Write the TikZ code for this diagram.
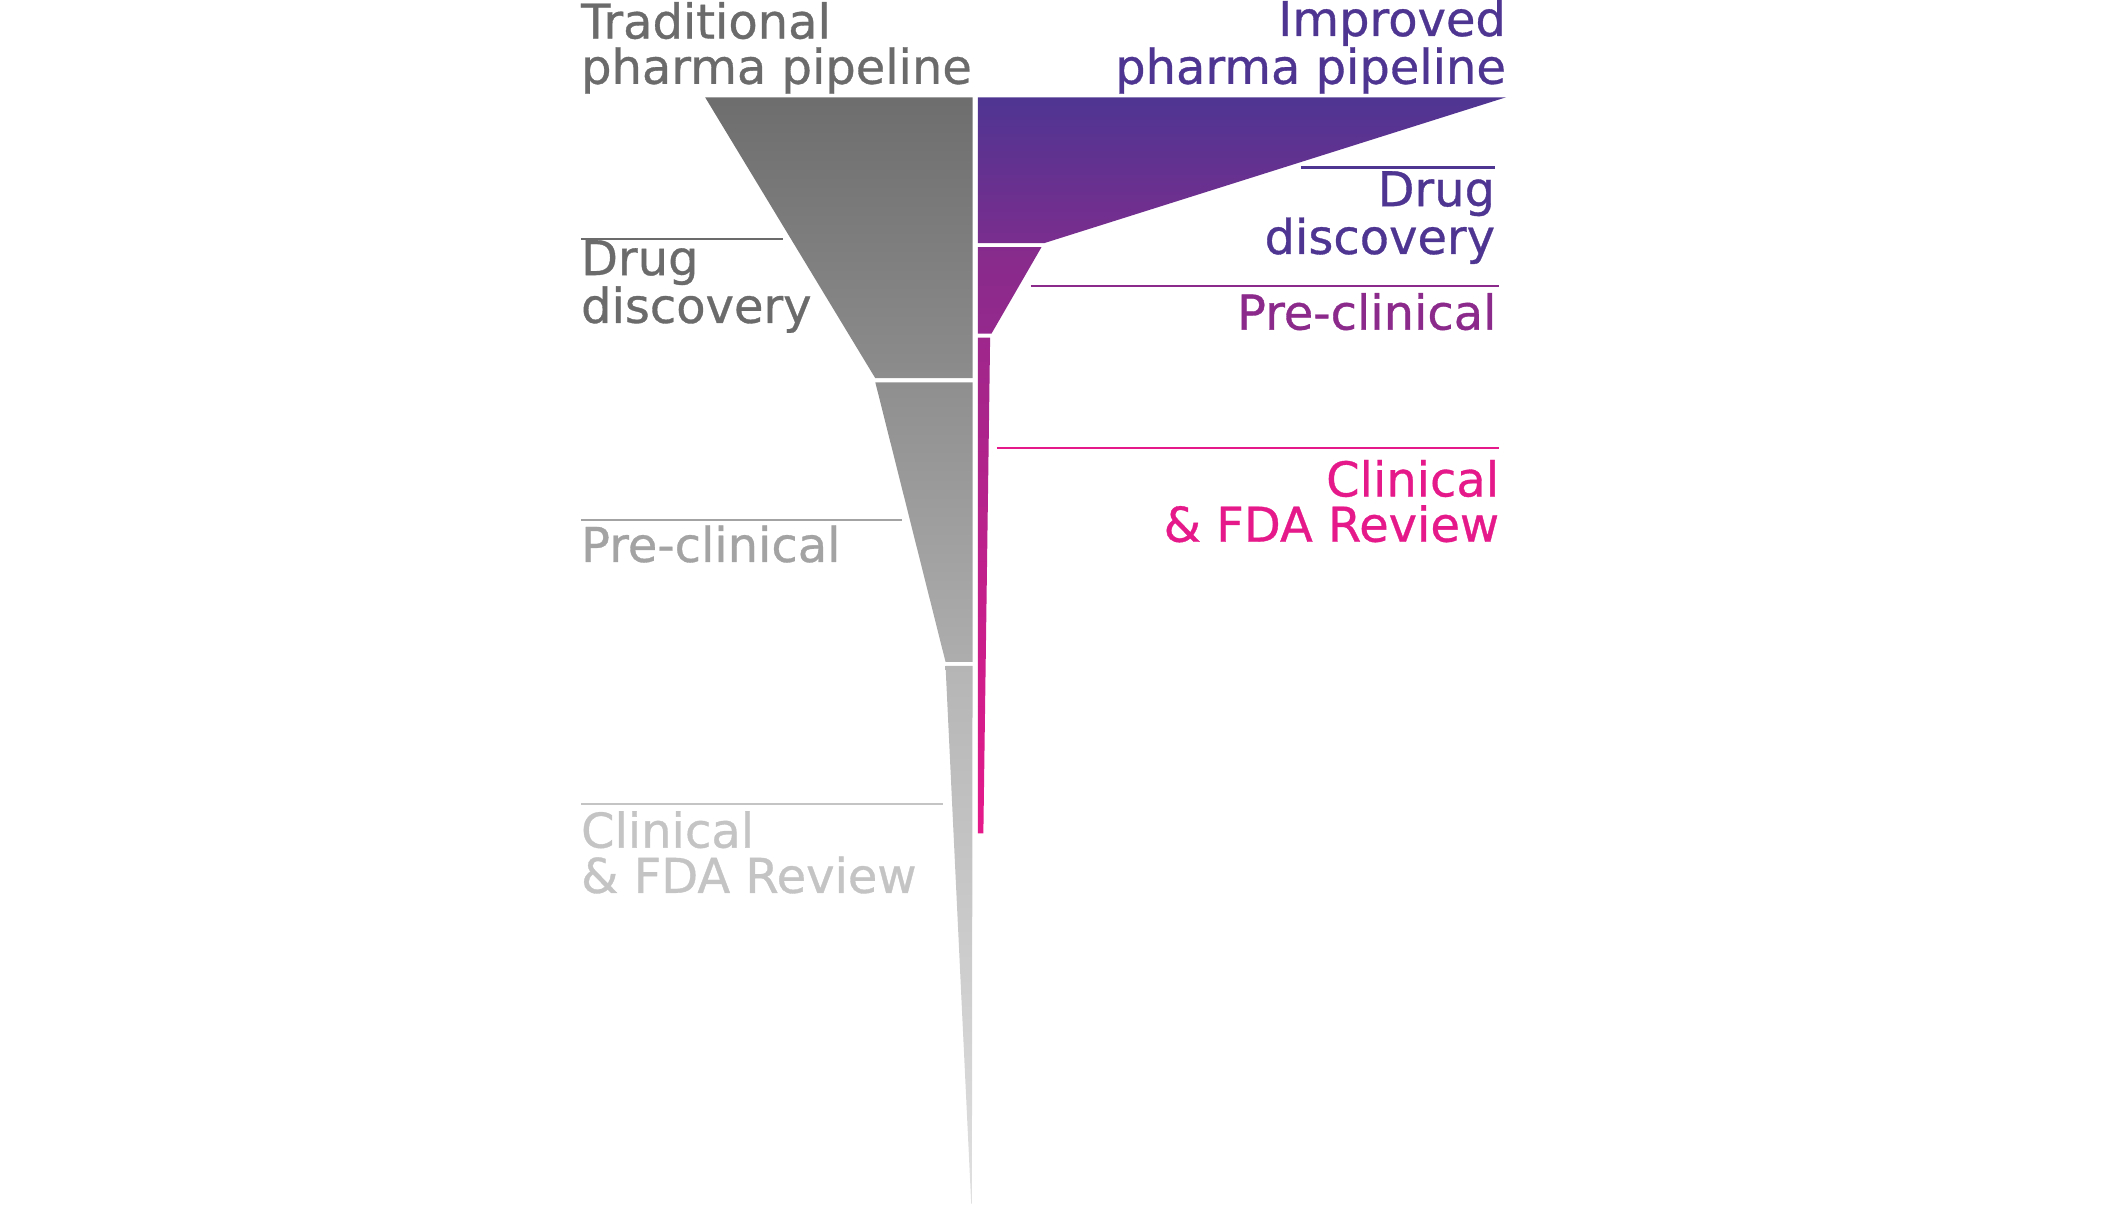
\documentclass[tikz,border=0pt]{standalone}
\usepackage{fontspec}
\setmainfont[FakeBold=0.7]{DejaVu Sans}
\begin{document}
\begin{tikzpicture}[x=1pt,y=-1pt,
  lbl/.style={inner sep=0pt,font=\fontsize{35.5}{33.5}\selectfont},
  lleft/.style={lbl,align=left,anchor=base west},
  lright/.style={lbl,align=right,anchor=base east},
  rule/.style={line width=1.5pt}]
\definecolor{gA}{HTML}{6B6B6B}
\definecolor{gB}{HTML}{A3A3A3}
\definecolor{gC}{HTML}{C4C4C4}
\definecolor{pA}{HTML}{4F3592}
\definecolor{pB}{HTML}{8C2A8C}
\definecolor{pC}{HTML}{E6198A}
\useasboundingbox (0,0) rectangle (1568,892);
% left funnel
\shade[top color=black!57,bottom color=black!45] (522,72) -- (720,72) -- (720,280) -- (648,280) -- cycle;
\shade[top color=black!44,bottom color=black!32] (648,283) -- (720,283) -- (720,490) -- (700,490) -- cycle;
\shade[top color=black!29,bottom color=black!12] (700,493) -- (720,493) -- (719.5,891) -- (719,891) -- cycle;
% right funnel
\shade[top color=pA,bottom color=pA!30!pB] (724,72) -- (1115,72) -- (773,180) -- (724,180) -- cycle;
\shade[top color=pB!90!pA,bottom color=pB!90!pC] (724,183) -- (771,183) -- (734,247) -- (724,247) -- cycle;
\shade[top color=pB!80!pC,bottom color=pC] (724,250) -- (733,250) -- (728,617) -- (724,617) -- cycle;
% titles
\node[lleft,text=gA] (tl) at (430,62) {Traditional\\pharma pipeline};
\node[lright,text=pA] (tr) at (1115,62) {Improved\\pharma pipeline};
% left labels
\coordinate (l1a) at (430,177); \coordinate (l1b) at (580,177);
\draw[rule,gA] (l1a) -- (l1b);
\node[lleft,text=gA] (ld) at (430,239) {Drug\\discovery};
\coordinate (l2a) at (430,385); \coordinate (l2b) at (668,385);
\draw[rule,gB] (l2a) -- (l2b);
\node[lleft,text=gB] (lp) at (430,416) {Pre-clinical};
\coordinate (l3a) at (430,595); \coordinate (l3b) at (698,595);
\draw[rule,gC] (l3a) -- (l3b);
\node[lleft,text=gC] (lc) at (430,661) {Clinical\\\& FDA Review};
% right labels
\coordinate (r1a) at (963,124); \coordinate (r1b) at (1107,124);
\draw[rule,pA] (r1a) -- (r1b);
\node[lright,text=pA] (rd) at (1107,188) {Drug\\discovery};
\coordinate (r2a) at (763,212); \coordinate (r2b) at (1110,212);
\draw[rule,pB] (r2a) -- (r2b);
\node[lright,text=pB] (rp) at (1108,244) {Pre-clinical};
\coordinate (r3a) at (738,332); \coordinate (r3b) at (1110,332);
\draw[rule,pC] (r3a) -- (r3b);
\node[lright,text=pC] (rc) at (1110,401) {Clinical\\\& FDA Review};
\end{tikzpicture}
\end{document}
